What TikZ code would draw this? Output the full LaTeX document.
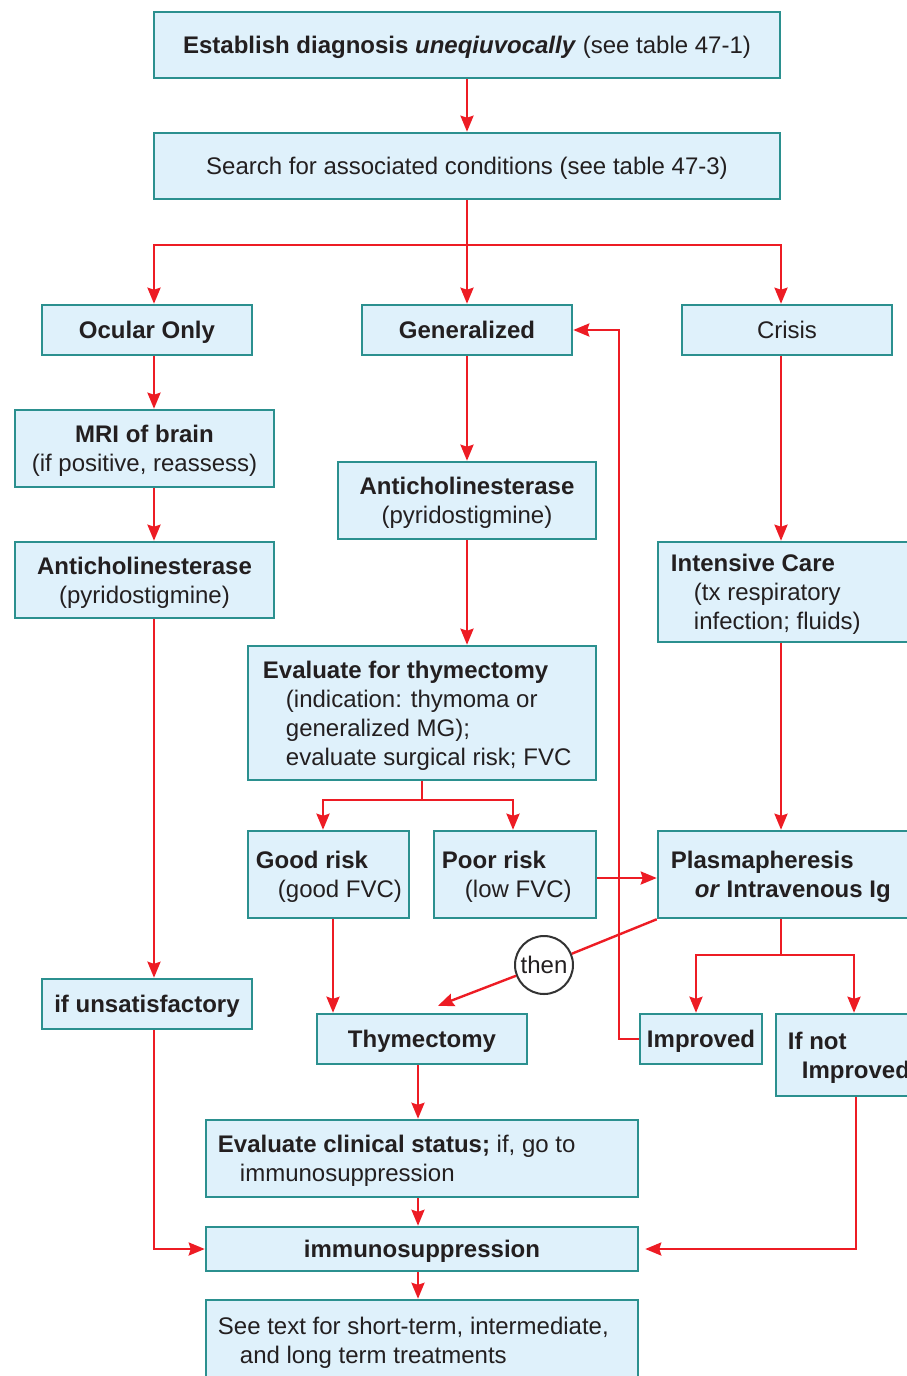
\documentclass[tikz,border=0pt]{standalone}
\usepackage{fontspec}
\setmainfont{Liberation Sans}
\usetikzlibrary{arrows.meta,calc}
\definecolor{boxfill}{HTML}{DFF1FB}
\definecolor{boxdraw}{HTML}{2B908F}
\definecolor{arrred}{HTML}{ED1C24}
\definecolor{txt}{HTML}{231F20}
\definecolor{circdraw}{HTML}{333333}
\newcommand\vst{\rule[-6pt]{0pt}{29pt}}
\begin{document}
\begin{tikzpicture}[x=1pt,y=-1pt,
  box/.style={draw=boxdraw, fill=boxfill, line width=2.5pt, inner sep=0pt,
    text=txt, font=\fontsize{24}{29}\selectfont, align=center},
  lbl/.style={text=txt, font=\fontsize{24}{29}\selectfont, inner sep=0pt, align=left, anchor=west},
  arr/.style={draw=arrred, line width=2.4pt, -{Stealth[length=16pt,width=13pt,inset=2pt]}},
  ln/.style={draw=arrred, line width=2.4pt},
]
\useasboundingbox (0,0) rectangle (907,1376);
\clip (0,0) rectangle (907,1376);

% columns
\coordinate (colL) at (154,0);
\coordinate (colR) at (781,0);
\coordinate (colB) at (418,0);

% boxes
\node[box, minimum width=626pt, minimum height=66pt] (est) at (467,45)
  {\vst\textbf{Establish diagnosis \textit{uneqiuvocally}} (see table 47-1)};
\node[box, minimum width=626pt, minimum height=66pt] (srch) at (467,166)
  {\vst Search for associated conditions (see table 47-3)};
\node[box, minimum width=210pt, minimum height=50pt] (ocu) at (147,330) {\vst\textbf{Ocular Only}};
\node[box, minimum width=210pt, minimum height=50pt] (gen) at (467,330) {\vst\textbf{Generalized}};
\node[box, minimum width=210pt, minimum height=50pt] (cri) at (787,330) {\vst Crisis};
\node[box, minimum width=259pt, minimum height=77pt] (mri) at (144.5,448.5)
  {\vst\textbf{MRI of brain}\\\vst(if positive, reassess)};
\node[box, minimum width=259pt, minimum height=76pt] (antl) at (144.5,580)
  {\vst\textbf{Anticholinesterase}\\\vst(pyridostigmine)};
\node[box, minimum width=258pt, minimum height=77pt] (antm) at (467,500.5)
  {\vst\textbf{Anticholinesterase}\\\vst(pyridostigmine)};
\node[box, minimum width=262pt, minimum height=100pt] (icu) at (789,592) {};
\node[box, minimum width=348pt, minimum height=134pt] (evt) at (422,713) {};
\node[box, minimum width=161pt, minimum height=87pt] (good) at (328.5,874.5) {};
\node[box, minimum width=162pt, minimum height=87pt] (poor) at (515,874.5) {};
\node[box, minimum width=262pt, minimum height=87pt] (plas) at (789,874.5) {};
\node[box, minimum width=210pt, minimum height=50pt] (unsat) at (147,1004) {\vst\textbf{if unsatisfactory}};
\node[box, minimum width=210pt, minimum height=50pt] (thy) at (422,1039) {\vst\textbf{Thymectomy}};
\node[box, minimum width=122pt, minimum height=50pt] (imp) at (701,1039) {\vst\textbf{Improved}};
\node[box, minimum width=154pt, minimum height=82pt] (notimp) at (853,1055) {};
\node[box, minimum width=432pt, minimum height=77pt] (evc) at (422,1158.5) {};
\node[box, minimum width=432pt, minimum height=44pt] (imm) at (422,1249) {\vst\textbf{immunosuppression}};
\node[box, minimum width=432pt, minimum height=80pt] (see) at (422,1340) {};

% left-aligned texts
\node[lbl] (t-icu) at ([xshift=14pt]icu.west)
  {\vst\textbf{Intensive Care}\\\hspace*{23pt}\vst(tx respiratory\\\hspace*{23pt}\vst infection; fluids)};
\node[lbl] (t-evt) at ([xshift=16pt]evt.west)
  {\vst\textbf{Evaluate for thymectomy}\\\hspace*{23pt}\vst(indication: thymoma or\\\hspace*{23pt}\vst generalized MG);\\\hspace*{23pt}\vst evaluate surgical risk; FVC};
\node[lbl] (t-good) at ([xshift=9pt]good.west)
  {\vst\textbf{Good risk}\\\hspace*{22pt}\vst(good FVC)};
\node[lbl] (t-poor) at ([xshift=9pt]poor.west)
  {\vst\textbf{Poor risk}\\\hspace*{23pt}\vst(low FVC)};
\node[lbl] (t-plas) at ([xshift=14pt]plas.west)
  {\vst\textbf{Plasmapheresis}\\\hspace*{24pt}\vst\textbf{\textit{or} Intravenous Ig}};
\node[lbl] (t-notimp) at ([xshift=13pt]notimp.west)
  {\vst\textbf{If not}\\\hspace*{14pt}\vst\textbf{Improved}};
\node[lbl] (t-evc) at ([xshift=13pt]evc.west)
  {\vst\textbf{Evaluate clinical status;} if, go to\\\hspace*{22pt}\vst immunosuppression};
\node[lbl] (t-see) at ([xshift=13pt]see.west)
  {\vst See text for short-term, intermediate,\\\hspace*{22pt}\vst and long term treatments};

% then circle
\node[circle, draw=circdraw, line width=2pt, minimum size=58pt, inner sep=0pt, fill=white,
  text=txt, font=\fontsize{24}{29}\selectfont] (then) at (544,965) {then};

% connectors
\draw[arr] (est) -- (srch);
\coordinate (br1) at (467,245);
\draw[ln] (srch.south) -- (br1);
\draw[arr] (br1) -- (gen.north);
\draw[arr] (br1) -| (ocu.north -| colL);
\draw[arr] (br1) -| (cri.north -| colR);

\draw[arr] (ocu.south -| colL) -- (mri.north -| colL);
\draw[arr] (mri.south -| colL) -- (antl.north -| colL);
\draw[arr] (antl.south -| colL) -- (unsat.north -| colL);
\draw[arr] (unsat.south -| colL) |- (imm.west);

\draw[arr] (gen) -- (antm);
\draw[arr] (antm.south) -- (antm.south |- evt.north);
\coordinate (br2) at (422,800);
\draw[ln] (evt.south) -- (br2);
\draw[arr] (br2) -| ([xshift=-5.5pt]good.north);
\draw[arr] (br2) -| ([xshift=-2pt]poor.north);

\draw[arr] (cri.south -| colR) -- (icu.north -| colR);
\draw[arr] (icu.south -| colR) -- (plas.north -| colR);
\draw[arr] ([yshift=-3.5pt]poor.east) -- ([yshift=-3.5pt]poor.east -| plas.west);

\draw[ln] (plas.south west) -- (then);
\draw[arr] (then) -- ([xshift=16pt,yshift=7pt]thy.north);

\coordinate (br3) at (781,955);
\draw[ln] (plas.south -| colR) -- (br3);
\draw[arr] (br3) -| ([xshift=-5pt]imp.north);
\draw[arr] (br3) -| ([xshift=1pt]notimp.north);
\draw[arr] (imp.west) -- ++(-20,0) |- (gen.east);

\draw[arr] ([xshift=4.5pt]good.south) -- ([xshift=4.5pt]good.south |- thy.north);
\draw[arr] (thy.south -| colB) -- (evc.north -| colB);
\draw[arr] (evc.south -| colB) -- (imm.north -| colB);
\draw[arr] (imm.south -| colB) -- (see.north -| colB);
\draw[arr, shorten >=6pt] ([xshift=3pt]notimp.south) |- (imm.east);
\end{tikzpicture}
\end{document}
